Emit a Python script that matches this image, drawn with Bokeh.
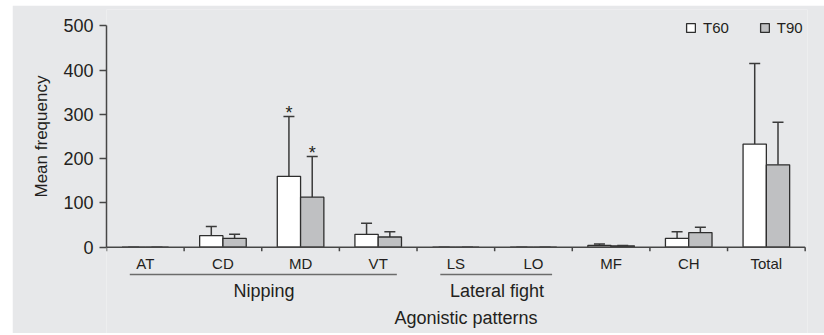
from bokeh.plotting import figure
from bokeh.models import (Range1d, FixedTicker, ColumnDataSource, Whisker, TeeHead, Legend,
                          LegendItem, Title, Spacer)
from bokeh.layouts import row, column
from bokeh.core.properties import value
from bokeh.embed import file_html
from bokeh.resources import INLINE

# ---- data ----
categories = ["AT", "CD", "MD", "VT", "LS", "LO", "MF", "CH", "Total"]
t60_mean = [0, 26, 160, 29, 0, 0, 4, 20, 233]
t60_err = [0, 21, 135, 25, 0, 0, 3, 15, 182]
t90_mean = [0, 20, 113, 23, 0, 0, 3, 33, 186]
t90_err = [0, 9, 92, 12, 0, 0, 1, 12, 96]
series_names = ["T60", "T90"]
significant = ["MD"]
group_names = ["Nipping", "Lateral fight"]
group_first = ["AT", "LS"]
group_last = ["VT", "LO"]
y_ticks = [0, 100, 200, 300, 400, 500]

# ---- style ----
BG = "#e7e8ea"
INK = "#231f20"
AXIS = "#464646"
GRAY = "#bfc0c2"
FONT = "Liberation Sans"
PX = 0.4428          # pixels per y unit
BAR_W = 0.3

y_top = 500 + (25.3 - 9) / PX
y_bot = y_top - 324 / PX

p = figure(width=812, height=328, x_range=Range1d(0, 9.03), y_range=Range1d(y_bot, y_top),
           output_backend="svg", toolbar_location=None, x_axis_location=None,
           min_border_left=94, min_border_right=17, min_border_top=4, min_border_bottom=0,
           background_fill_color=BG, border_fill_color=BG, outline_line_color=None)
p.xgrid.visible = False
p.ygrid.visible = False

ax = p.yaxis[0]
ax.bounds = (0, 500)
ax.ticker = FixedTicker(ticks=y_ticks)
ax.major_tick_in = 0
ax.major_tick_out = 7
ax.minor_tick_line_color = None
ax.axis_line_color = AXIS
ax.axis_line_width = 1.5
ax.major_tick_line_color = AXIS
ax.major_tick_line_width = 1.5
ax.major_label_text_font = FONT
ax.major_label_text_font_size = "18px"
ax.major_label_text_color = INK
ax.major_label_standoff = 6

ylab = Title(text="Mean frequency", align="left", offset=136, text_font=FONT,
             text_font_size="17px", text_font_style="normal", text_color=INK, standoff=19)
p.add_layout(ylab, "left")

centers = [i + 0.5 for i in range(len(categories))]
x60 = [c - BAR_W / 2 for c in centers]
x90 = [c + BAR_W / 2 for c in centers]

r60 = p.vbar(x=x60, top=t60_mean, width=BAR_W, fill_color="white", line_color="#2e2e2e", line_width=1.3)
r90 = p.vbar(x=x90, top=t90_mean, width=BAR_W, fill_color=GRAY, line_color="#2e2e2e", line_width=1.3)

for xs, m, e in ((x60, t60_mean, t60_err), (x90, t90_mean, t90_err)):
    src = ColumnDataSource(dict(x=xs, lower=m, upper=[a + b for a, b in zip(m, e)]))
    w = Whisker(source=src, base="x", lower="lower", upper="upper",
                upper_head=TeeHead(size=11, line_color="#3a3a3a", line_width=1.5),
                lower_head=None, line_color="#3a3a3a", line_width=1.5)
    p.add_layout(w)

# significance stars
sx, sy = [], []
for cat in significant:
    i = categories.index(cat)
    sx += [x60[i], x90[i]]
    sy += [t60_mean[i] + t60_err[i] + 8, t90_mean[i] + t90_err[i] + 8]
p.text(x=sx, y=sy, text=["*"] * len(sx), text_align="center", text_baseline="middle",
       text_font=value(FONT), text_font_size="18px", text_color=INK)

# x axis drawn at y = 0
p.segment(x0=[0], y0=[0], x1=[9], y1=[0], line_color=AXIS, line_width=1.5)
tick_len = 4 / PX
p.segment(x0=list(range(10)), y0=[0] * 10, x1=list(range(10)), y1=[-tick_len] * 10,
          line_color=AXIS, line_width=1.5)
p.text(x=centers, y=[-(263.4 - 246.7) / PX] * len(centers), text=categories,
       text_align="center", text_baseline="middle", text_font=value(FONT),
       text_font_size="15px", text_color=INK)

# group underlines and labels
gx0, gx1, gc = [], [], []
for a, b in zip(group_first, group_last):
    i, j = categories.index(a), categories.index(b)
    gx0.append(centers[i] - 0.2)
    gx1.append(centers[j] + 0.24)
    gc.append((centers[i] + centers[j]) / 2 + 0.03)
ly = -(274 - 246.7) / PX
p.segment(x0=gx0, y0=[ly] * len(gx0), x1=gx1, y1=[ly] * len(gx0), line_color="#6b6b6b", line_width=1.6)
p.text(x=gc, y=[-(290.8 - 246.7) / PX] * len(gc), text=group_names, text_align="center",
       text_baseline="middle", text_font=value(FONT), text_font_size="18px", text_color=INK)

p.text(x=[4.63], y=[-(317.8 - 246.7) / PX], text=["Agonistic patterns"], text_align="center",
       text_baseline="middle", text_font=value(FONT), text_font_size="18px", text_color=INK)

legend = Legend(items=[LegendItem(label=series_names[0], renderers=[r60]),
                       LegendItem(label=series_names[1], renderers=[r90])],
                location=(579, 297), orientation="horizontal", glyph_width=11, glyph_height=11,
                label_standoff=7, spacing=30, padding=0, margin=0, border_line_color=None,
                background_fill_alpha=0, label_text_font=FONT, label_text_font_size="15px",
                label_text_color=INK)
p.add_layout(legend)

layout = row(Spacer(width=12, height=333), column(Spacer(width=812, height=5), p))
open("out.html", "w").write(file_html(layout, INLINE))
